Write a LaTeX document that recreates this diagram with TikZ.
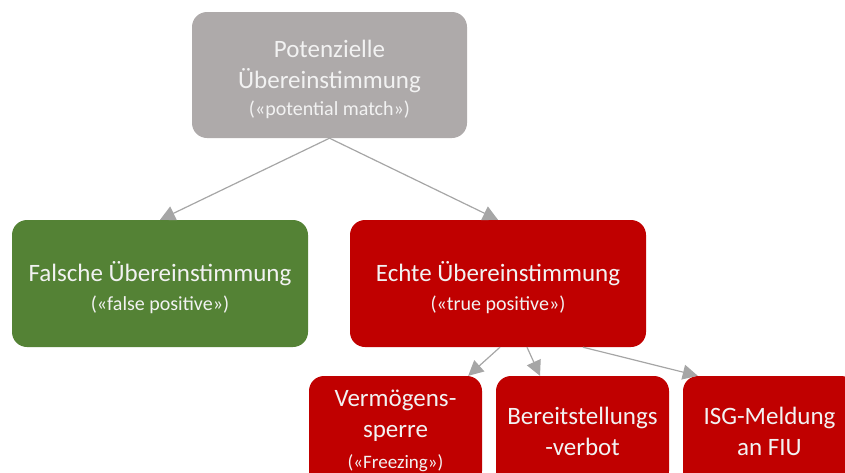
\documentclass[tikz,border=0pt]{standalone}
\usepackage{fontspec}
\setmainfont{Carlito}
\usetikzlibrary{arrows.meta}
\definecolor{topgray}{HTML}{AEAAAA}
\definecolor{okgreen}{HTML}{548235}
\definecolor{hitred}{HTML}{C00000}
\definecolor{linegray}{HTML}{A6A6A6}
\definecolor{txtlight}{HTML}{F2F2F2}
\newcommand{\subline}{\fontsize{20}{24}\selectfont}
\begin{document}
\begin{tikzpicture}[x=1pt,y=-1pt,
  box/.style={rounded corners=15pt, inner sep=2pt, align=center, text=txtlight,
    font=\fontsize{25}{31}\selectfont},
  bigbox/.style={box, minimum width=296pt, minimum height=127pt},
  smallbox/.style={box, fill=hitred, minimum width=173pt, minimum height=110pt},
  conn/.style={draw=linegray, line width=1.2pt, -{Triangle[length=15pt,width=15pt]}}]
\useasboundingbox (0,0) rectangle (845,472);
\clip (0,0) rectangle (845,472);
\node[box, fill=topgray, minimum width=275pt, minimum height=126pt] (top) at (329.5,75)
  {\rule{0pt}{27pt}Potenzielle\\Übereinstimmung\\[-4pt]\subline («potential match»)};
\node[bigbox, fill=okgreen] (falsche) at (160,283.5)
  {\rule{0pt}{29pt}Falsche Übereinstimmung\\[-2pt]\subline («false positive»)};
\node[bigbox, fill=hitred] (echte) at (498,283.5)
  {\rule{0pt}{29pt}Echte Übereinstimmung\\[-2pt]\subline («true positive»)};
\node[smallbox] (verm) at (395.5,431)
  {Vermögens-\\sperre\\\fontsize{19}{22}\selectfont («Freezing»)};
\node[smallbox] (bereit) at (582.5,431)
  {Bereitstellungs\\-verbot};
\node[smallbox] (isg) at (769.5,431)
  {ISG-Meldung\\an FIU};
\draw[conn] (top.south) -- (falsche.north);
\draw[conn] (top.south) -- (echte.north);
\draw[conn] ([xshift=2pt]echte.south) -- ([xshift=-14pt]verm.north east);
\draw[conn] ([xshift=29pt]echte.south) -- ([xshift=-42.5pt]bereit.north);
\draw[conn] ([xshift=85pt]echte.south) -- ([xshift=15pt]isg.north west);
\end{tikzpicture}
\end{document}
